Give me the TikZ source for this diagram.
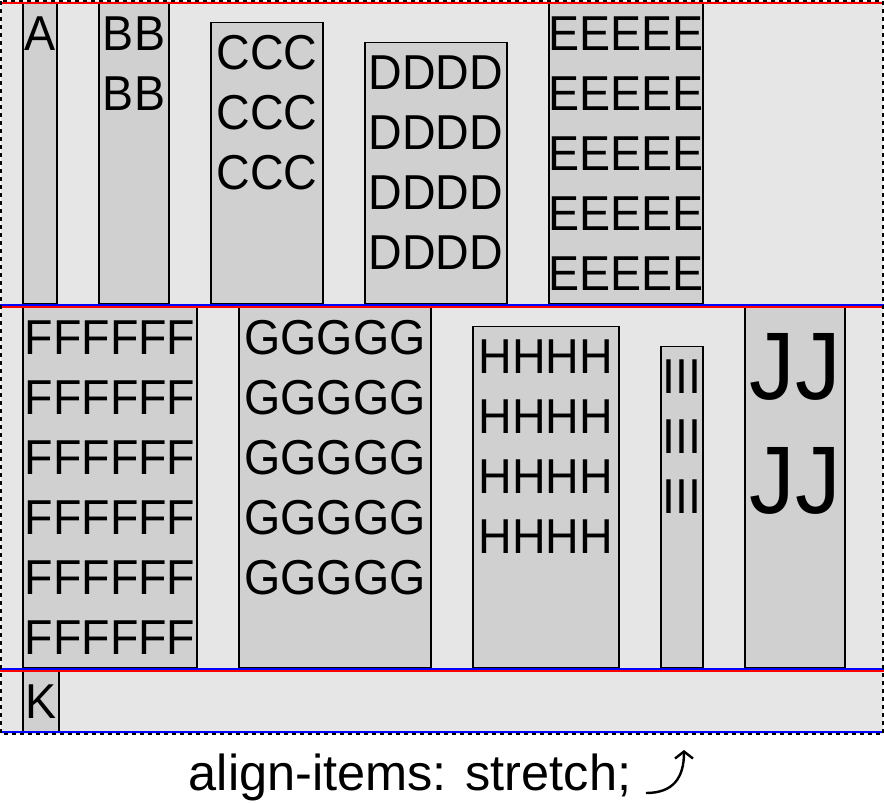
\documentclass[tikz,border=0pt]{standalone}
\usepackage{fontspec}
\setmainfont{Liberation Sans}
\newfontfamily\itemfont[FakeStretch=0.95]{Liberation Sans}
\usepackage{tikz}
\usetikzlibrary{arrows.meta}
\definecolor{flexBg}{RGB}{230,230,230}
\definecolor{flexItem}{RGB}{208,208,208}
\definecolor{lineStart}{RGB}{255,0,0}
\definecolor{lineEnd}{RGB}{0,0,255}
\tikzset{
  itembox/.style={draw=black, fill=flexItem, line width=1.6pt},
  itemtext/.style={align=center, inner sep=0pt, anchor=base, font=\itemfont\fontsize{49}{60}\selectfont},
  bigtext/.style={itemtext, font=\itemfont\fontsize{96}{114}\selectfont},
  crossstart/.style={lineStart, line width=2.2pt},
  crossend/.style={lineEnd, line width=2.2pt},
}

\begin{document}
\begin{tikzpicture}[x=1pt,y=-1pt]
\useasboundingbox (0,0) rectangle (884,803);
\fill[flexBg] (1,1) rectangle (883,734);
% line 1 (text nodes sit on the baseline of their last line)
\draw[itembox] (23,3.5) rectangle (57,304);
\node[itemtext] (itemA) at (40,50.5) {A};
\draw[itembox] (99,3.5) rectangle (169,304);
\node[itemtext] (itemB) at (134,110.5) {BB\\BB};
\draw[itembox] (211,22.5) rectangle (323,304);
\node[itemtext] (itemC) at (267,189.5) {CCC\\CCC\\CCC};
\draw[itembox] (365,42.5) rectangle (507,304);
\node[itemtext] (itemD) at (436,269.5) {DDDD\\DDDD\\DDDD\\DDDD};
\draw[itembox] (549,3.5) rectangle (703,304);
\node[itemtext] (itemE) at (626,290.5) {EEEEE\\EEEEE\\EEEEE\\EEEEE\\EEEEE};
% line 2
\draw[itembox] (23,307.5) rectangle (197,668);
\node[itemtext] (itemF) at (110,654.5) {FFFFFF\\FFFFFF\\FFFFFF\\FFFFFF\\FFFFFF\\FFFFFF};
\draw[itembox] (239,307.5) rectangle (431,668);
\node[itemtext] (itemG) at (335,594.5) {GGGGG\\GGGGG\\GGGGG\\GGGGG\\GGGGG};
\draw[itembox] (473,326.5) rectangle (619,668);
\node[itemtext] (itemH) at (546,553.5) {HHHH\\HHHH\\HHHH\\HHHH};
\draw[itembox] (661,346.5) rectangle (703,668);
\node[itemtext] (itemI) at (682,513.5) {III\\III\\III};
\draw[itembox] (745,307.5) rectangle (845,668);
\node[bigtext] (itemJ) at (795,513) {JJ\\JJ};
% line 3
\draw[itembox] (23,671) rectangle (59,731.5);
\node[itemtext] (itemK) at (41,718) {K};
% cross start / end of each line
\draw[crossstart] (0,2.6) -- (884,2.6);
\draw[crossend] (0,304.6) -- (884,304.6);
\draw[crossstart] (0,306.6) -- (884,306.6);
\draw[crossend] (0,668.6) -- (884,668.6);
\draw[crossstart] (0,670.6) -- (884,670.6);
\draw[crossend] (0,732) -- (884,732);
\draw[black, line width=2pt, dash pattern=on 4pt off 4pt] (1,1) rectangle (883,734);
% caption
\node[anchor=base, inner sep=0pt, font=\fontsize{50.5}{60}\selectfont] (caption) at (410,790) {align-items: stretch;};
\coordinate (arrowfoot) at (646,793);
\coordinate (arrowtip) at (684,750);
\draw[line width=2.4pt, -{Straight Barb[length=7pt,width=18pt]}] (arrowfoot) .. controls (673,793) and (684,778) .. (arrowtip);
\end{tikzpicture}
\end{document}
